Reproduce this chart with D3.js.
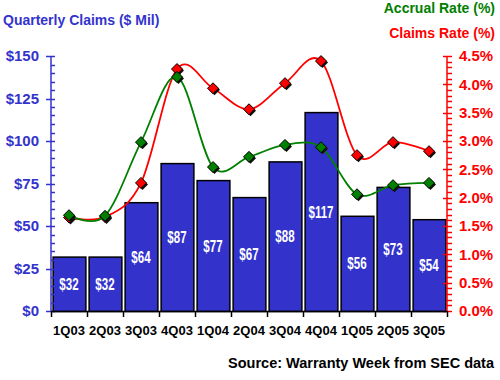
<!DOCTYPE html>
<html>
<head>
<meta charset="utf-8">
<script src="https://cdn.jsdelivr.net/npm/d3@7"></script>
<style>
  body { margin: 0; background: #fff; }
  text { font-family: Arial, "Liberation Sans", sans-serif; font-weight: bold; }
</style>
</head>
<body>
<div id="chart"></div>
<script>
var quarters = ['1Q03', '2Q03', '3Q03', '4Q03', '1Q04', '2Q04', '3Q04', '4Q04', '1Q05', '2Q05', '3Q05'];
var claims = [32, 32, 64, 87, 77, 67, 88, 117, 56, 73, 54];
var claimsRate = [1.65, 1.66, 2.26, 4.27, 3.93, 3.56, 4.02, 4.41, 2.75, 2.98, 2.82];
var accrualRate = [1.69, 1.68, 2.98, 4.13, 2.54, 2.72, 2.93, 2.89, 2.06, 2.22, 2.26];
var leftTicks = [0, 25, 50, 75, 100, 125, 150];
var rightTicks = [0, 0.5, 1, 1.5, 2, 2.5, 3, 3.5, 4, 4.5];

var W = 500, H = 380;
var x0 = 51, x1 = 447, yTop = 56, yBot = 311;
var blue = '#3333cc', red = '#ff0000', green = '#008000';

var svg = d3.select('#chart').append('svg')
    .attr('width', W)
    .attr('height', H);

var x = d3.scaleBand().domain(quarters).range([x0, x1]).paddingInner(0.09).paddingOuter(0.045);
var xc = d3.scaleBand().domain(quarters).range([x0, x1]);
var yL = d3.scaleLinear().domain([0, 150]).range([yBot, yTop]);
var yR = d3.scaleLinear().domain([0, 4.5]).range([yBot, yTop]);

// bars
svg.append('g').selectAll('rect')
    .data(claims)
    .enter().append('rect')
    .attr('x', function(d, i) { return x(quarters[i]) + 0.5; })
    .attr('y', function(d) { return yL(d) + 0.5; })
    .attr('width', x.bandwidth())
    .attr('height', function(d) { return yBot - yL(d); })
    .attr('fill', blue)
    .attr('stroke', '#000')
    .attr('stroke-width', 1.5);

// narrow white value labels
svg.append('g').selectAll('text')
    .data(claims)
    .enter().append('text')
    .attr('transform', function(d, i) {
        var cx = xc(quarters[i]) + xc.bandwidth() / 2;
        var cy = (yL(d) + yBot) / 2 + 6;
        return 'translate(' + cx + ',' + cy + ') scale(0.7,1)';
    })
    .attr('text-anchor', 'middle')
    .attr('fill', '#fff')
    .style('font-size', '16.5px')
    .text(function(d) { return '$' + d; });

// left axis
var leftAxis = d3.axisLeft(yL).tickValues(leftTicks)
    .tickFormat(function(d) { return '$' + d; })
    .tickSize(0).tickPadding(12);
var gL = svg.append('g').attr('transform', 'translate(' + x0 + ',0)').call(leftAxis);
gL.select('.domain').remove();
gL.selectAll('text').attr('fill', blue).style('font-size', '15px');
gL.append('line').attr('x1', 0).attr('x2', 0).attr('y1', yTop).attr('y2', yBot)
    .attr('stroke', blue).attr('stroke-width', 1.5);
gL.selectAll('.minor').data(d3.range(0, 151, 5)).enter().append('line')
    .attr('x1', function(d) { return d % 25 === 0 ? -5 : 0; })
    .attr('x2', 4)
    .attr('y1', function(d) { return Math.round(yL(d)) + 0.5; })
    .attr('y2', function(d) { return Math.round(yL(d)) + 0.5; })
    .attr('stroke', blue).attr('stroke-width', 1.5);

// right axis
var rightAxis = d3.axisRight(yR).tickValues(rightTicks)
    .tickFormat(function(d) { return d.toFixed(1) + '%'; })
    .tickSize(0).tickPadding(12);
var gR = svg.append('g').attr('transform', 'translate(' + x1 + ',0)').call(rightAxis);
gR.select('.domain').remove();
gR.selectAll('text').attr('fill', red).style('font-size', '15px');
gR.append('line').attr('x1', 0).attr('x2', 0).attr('y1', yTop).attr('y2', yBot)
    .attr('stroke', red).attr('stroke-width', 1.5);
gR.selectAll('.minor').data(d3.range(0, 46, 1)).enter().append('line')
    .attr('x1', function(d) { return d % 5 === 0 ? -4 : 0; })
    .attr('x2', 5)
    .attr('y1', function(d) { return Math.round(yR(d / 10)) + 0.5; })
    .attr('y2', function(d) { return Math.round(yR(d / 10)) + 0.5; })
    .attr('stroke', red).attr('stroke-width', 1.5);

// x axis
var bottomAxis = d3.axisBottom(xc).tickSize(0).tickPadding(15);
var gX = svg.append('g').attr('transform', 'translate(0,' + yBot + ')').call(bottomAxis);
gX.select('.domain').remove();
gX.selectAll('text').attr('fill', '#000').style('font-size', '13px');
gX.append('line').attr('x1', x0).attr('x2', x1).attr('y1', 0.5).attr('y2', 0.5)
    .attr('stroke', '#000').attr('stroke-width', 1.5);
gX.selectAll('.tk').data(d3.range(quarters.length + 1)).enter().append('line')
    .attr('x1', function(d) { return Math.round(x0 + d * xc.step()) + 0.5; })
    .attr('x2', function(d) { return Math.round(x0 + d * xc.step()) + 0.5; })
    .attr('y1', 0).attr('y2', 6)
    .attr('stroke', '#000').attr('stroke-width', 1.5);

// rate lines
function drawSeries(values, color) {
    var line = d3.line()
        .x(function(d, i) { return xc(quarters[i]) + xc.bandwidth() / 2; })
        .y(function(d) { return yR(d); })
        .curve(d3.curveCardinal.tension(0));
    svg.append('path').datum(values)
        .attr('d', line)
        .attr('fill', 'none')
        .attr('stroke', color)
        .attr('stroke-width', 1.8);
    var diamond = 'M0,-5.5L5.5,0L0,5.5L-5.5,0Z';
    var g = svg.append('g');
    g.selectAll('.shadow').data(values).enter().append('path')
        .attr('d', diamond)
        .attr('transform', function(d, i) {
            return 'translate(' + (xc(quarters[i]) + xc.bandwidth() / 2 + 1.5) + ',' + (yR(d) + 1.5) + ')';
        })
        .attr('fill', '#111');
    g.selectAll('.mark').data(values).enter().append('path')
        .attr('d', diamond)
        .attr('transform', function(d, i) {
            return 'translate(' + (xc(quarters[i]) + xc.bandwidth() / 2) + ',' + yR(d) + ')';
        })
        .attr('fill', color)
        .attr('stroke', '#000')
        .attr('stroke-width', 1);
}
drawSeries(claimsRate, red);
drawSeries(accrualRate, green);

// titles
svg.append('text').attr('x', 3).attr('y', 25)
    .attr('fill', blue).style('font-size', '14px')
    .text('Quarterly Claims ($ Mil)');
svg.append('text').attr('x', 495).attr('y', 13)
    .attr('text-anchor', 'end').attr('fill', green).style('font-size', '14px')
    .text('Accrual Rate (%)');
svg.append('text').attr('x', 495).attr('y', 38)
    .attr('text-anchor', 'end').attr('fill', red).style('font-size', '14px')
    .text('Claims Rate (%)');
svg.append('text').attr('x', 494).attr('y', 368)
    .attr('text-anchor', 'end').attr('fill', '#000').style('font-size', '14.5px')
    .text('Source: Warranty Week from SEC data');
</script>
</body>
</html>
